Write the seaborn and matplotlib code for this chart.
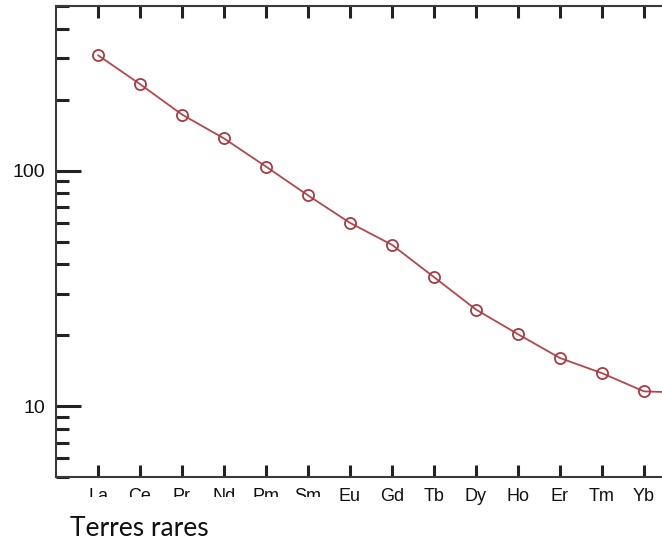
import pandas as pd
import matplotlib
matplotlib.use("Agg")
import matplotlib.pyplot as plt
from matplotlib.patches import Rectangle
from matplotlib.ticker import LogLocator, NullFormatter, FixedFormatter, FixedLocator
import seaborn as sns

# Rare earth elements (chondrite-normalised pattern)
elements = ["La", "Ce", "Pr", "Nd", "Pm", "Sm", "Eu", "Gd", "Tb", "Dy", "Ho", "Er", "Tm", "Yb", "Lu"]
values = [309, 233, 173, 137, 104, 78.5, 60, 48.4, 35.3, 25.7, 20.2, 16.0, 13.8, 11.55, 11.4]
y_major = [10, 100]
y_major_labels = ["10", "100"]
x_title = "Terres rares"

df = pd.DataFrame({"pos": range(len(elements)), "element": elements, "value": values})

sns.set_theme(style="white")
plt.rcParams["font.family"] = ["Liberation Sans", "DejaVu Sans"]

W, H = 662, 540
fig = plt.figure(figsize=(W / 100, H / 100), dpi=100)
# axes wider than the figure: the right part of the original plot is cropped
ax = fig.add_axes([56 / W, 63 / H, 672 / W, 471 / H])

line_col = "#b6464c"
sns.lineplot(data=df, x="pos", y="value", ax=ax, color=line_col, linewidth=1.3,
             marker="o", markersize=8, markerfacecolor="none",
             markeredgecolor="#a83a42", markeredgewidth=1.3)

ax.set_yscale("log")
ax.set_ylim(5, 500)
ax.set_xlim(-1, len(elements))

ax.yaxis.set_major_locator(FixedLocator(y_major))
ax.yaxis.set_major_formatter(FixedFormatter(y_major_labels))
ax.yaxis.set_minor_locator(LogLocator(base=10, subs=range(2, 10)))
ax.yaxis.set_minor_formatter(NullFormatter())

ax.set_xticks(df["pos"])
ax.set_xticklabels(elements)
# the last label (Lu) falls outside the cropped picture
ax.get_xticklabels()[-1].set_visible(False)

ax.tick_params(axis="y", which="major", direction="in", length=18, width=2.2,
               color="#222222", labelcolor="#111111", labelsize=14, pad=8,
               left=True, right=False)
ax.tick_params(axis="y", which="minor", direction="in", length=9.5, width=2.2,
               color="#222222", left=True, right=False)
ax.tick_params(axis="x", which="major", direction="in", length=8.5, width=2.2,
               color="#222222", labelcolor="#111111", labelsize=13, pad=8,
               top=True, bottom=True)
ax.tick_params(axis="x", which="minor", bottom=False, top=False)

for s in ax.spines.values():
    s.set_color("#3a3a3a")
    s.set_linewidth(1.5)

ax.set_xlabel("")
ax.set_ylabel("")
ax.grid(False)

# white caption box covering the lower part of the first labels
fig.patches.append(Rectangle((0, 0), 335 / W, 43 / H, transform=fig.transFigure,
                             facecolor="white", edgecolor="none", zorder=10))
fig.text(70 / W, 1 - 536 / H, x_title, fontsize=19, family=["Lato", "DejaVu Sans"],
         color="#111111", ha="left", va="baseline", zorder=11)

fig.savefig("out.png", dpi=100, facecolor="white")
